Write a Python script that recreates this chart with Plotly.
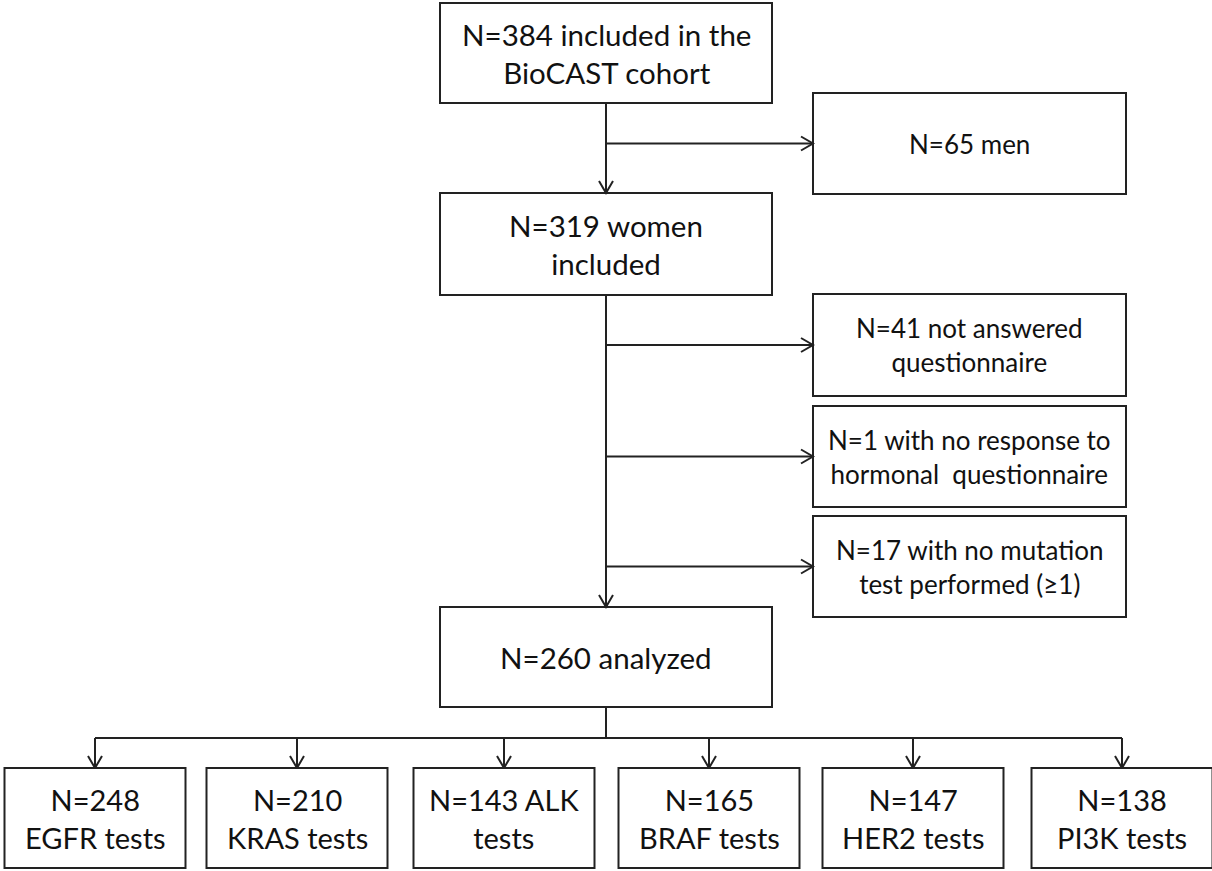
import plotly.graph_objects as go

# ---- content (data) ----
start_label = "N=384 included in the<br>BioCAST cohort"
women_label = "N=319 women<br>included"
analyzed_label = "N=260 analyzed"
excluded_labels = [
    "N=65 men",
    "N=41 not answered<br>questionnaire",
    "N=1 with no response to<br>hormonal  questionnaire",
    "N=17 with no mutation<br>test performed (≥1)",
]
test_counts = [248, 210, 143, 165, 147, 138]
test_genes = ["EGFR", "KRAS", "ALK", "BRAF", "HER2", "PI3K"]
test_labels = ["N=248<br>EGFR tests", "N=210<br>KRAS tests", "N=143 ALK<br>tests",
               "N=165<br>BRAF tests", "N=147<br>HER2 tests", "N=138<br>PI3K tests"]

# ---- layout geometry (pixel space of the 1212x871 canvas) ----
W, H = 1212, 871
main_x0, main_x1 = 440, 772
main_cx = 606
side_x0, side_x1 = 813, 1126
start_y = (3, 103)
women_y = (193, 295)
analyzed_y = (607, 707)
excl_y = [(93, 194), (294, 396), (406, 507), (516, 617)]
dist_y = 738
test_y = (768, 868)
test_cx = [95, 297, 504, 709, 913, 1122]
test_w = 181

LINE = "#222222"
FONT = "Lato, 'Open Sans', sans-serif"

fig = go.Figure()
shapes = []
annotations = []


def box(x0, x1, y0, y1, text, size):
    shapes.append(dict(type="rect", xref="x", yref="y", x0=x0, x1=x1, y0=y0, y1=y1,
                       line=dict(color=LINE, width=2), fillcolor="white", layer="above"))
    annotations.append(dict(x=(x0 + x1) / 2, y=(y0 + y1) / 2, xref="x", yref="y", text=text,
                            showarrow=False, font=dict(family=FONT, size=size, color="#111111"),
                            align="center", xanchor="center", yanchor="middle"))


def line(x0, y0, x1, y1):
    shapes.append(dict(type="line", xref="x", yref="y", x0=x0, y0=y0, x1=x1, y1=y1,
                       line=dict(color=LINE, width=2)))


def head_down(x, y):
    shapes.append(dict(type="path", xref="x", yref="y",
                       path=f"M {x-7},{y-12} L {x},{y} L {x+7},{y-12}",
                       line=dict(color=LINE, width=2)))


def head_right(x, y):
    shapes.append(dict(type="path", xref="x", yref="y",
                       path=f"M {x-12},{y-7} L {x},{y} L {x-12},{y+7}",
                       line=dict(color=LINE, width=2)))


# main boxes
box(main_x0, main_x1, *start_y, start_label, 29.5)
box(main_x0, main_x1, *women_y, women_label, 29.5)
box(main_x0, main_x1, *analyzed_y, analyzed_label, 29.5)

# exclusion boxes
for (y0, y1), lab in zip(excl_y, excluded_labels):
    box(side_x0, side_x1, y0, y1, lab, 26)

# vertical flow lines
line(main_cx, start_y[1], main_cx, women_y[0])
head_down(main_cx, women_y[0])
line(main_cx, women_y[1], main_cx, analyzed_y[0])
head_down(main_cx, analyzed_y[0])

# branches to exclusion boxes
for (y0, y1) in excl_y:
    ym = (y0 + y1) / 2
    line(main_cx, ym, side_x0, ym)
    head_right(side_x0, ym)

# distribution to tests
line(main_cx, analyzed_y[1], main_cx, dist_y)
line(test_cx[0], dist_y, test_cx[-1], dist_y)
for cx, lab in zip(test_cx, test_labels):
    line(cx, dist_y, cx, test_y[0])
    head_down(cx, test_y[0])
    box(cx - test_w / 2, cx + test_w / 2, *test_y, lab, 29)

fig.update_layout(
    width=W, height=H,
    margin=dict(l=0, r=0, t=0, b=0),
    paper_bgcolor="white", plot_bgcolor="white",
    xaxis=dict(range=[0, W], visible=False, fixedrange=True),
    yaxis=dict(range=[H, 0], visible=False, fixedrange=True),
    shapes=shapes, annotations=annotations, showlegend=False,
)

fig.write_html("out.html", config={"displayModeBar": False},
               post_script="document.body.style.margin='0';")
